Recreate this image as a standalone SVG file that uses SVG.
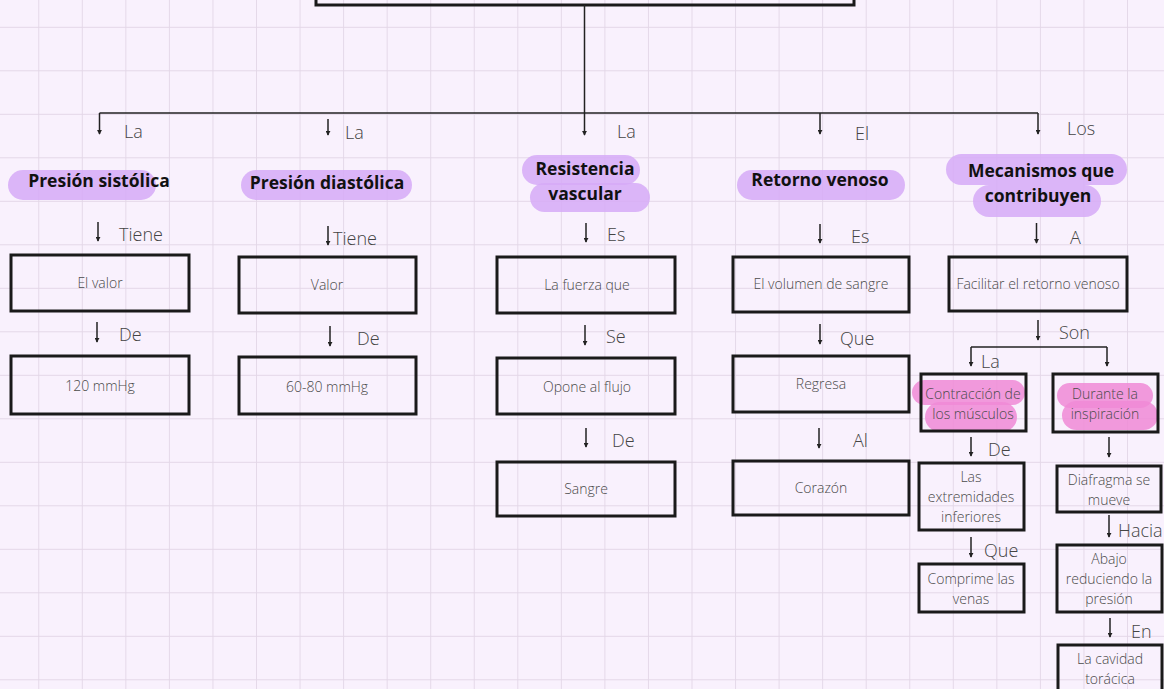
<svg xmlns="http://www.w3.org/2000/svg" width="1164" height="689" viewBox="0 0 1164 689">
<defs>
<pattern id="grid" x="-5.3" y="-16.7" width="43.55" height="43.5" patternUnits="userSpaceOnUse">
<path d="M0 0 V43.5 M0 0 H43.55" fill="none" stroke="#e3d7e7" stroke-width="1.8"/>
</pattern>
<marker id="ah" viewBox="0 0 6 6" refX="5" refY="3" markerWidth="5" markerHeight="5" orient="auto" markerUnits="userSpaceOnUse">
<path d="M0 0 L6 3 L0 6 Z" fill="#222"/>
</marker>
<style>
.box{fill:none;stroke:#1a1a1a;stroke-width:3}
.bt{font-family:"Open Sans","Liberation Sans",sans-serif;font-weight:300;font-size:14px;fill:#4a4a4a;text-anchor:middle}
.lb{font-family:"Open Sans","Liberation Sans",sans-serif;font-weight:300;font-size:18px;fill:#444}
.tt{font-family:"Open Sans","Liberation Sans",sans-serif;font-weight:700;font-size:17.5px;fill:#111;text-anchor:middle}
.hp{fill:#d6aaf7;opacity:0.85}
.hk{fill:#f08ad6;opacity:0.85}
.ar{stroke:#222;stroke-width:1.5;fill:none;marker-end:url(#ah)}
.ln{stroke:#222;stroke-width:1.5;fill:none}
</style>
</defs>
<rect width="1164" height="689" fill="#f9f1fd"/>
<rect width="1164" height="689" fill="url(#grid)"/>

<g id="root"><rect class="box" x="316" y="-10" width="538" height="15"/></g>

<g id="connectors">
<line class="ar" x1="584.5" y1="5" x2="584.5" y2="135"/>
<path class="ln" d="M99.5 113 H1038"/>
<line class="ar" x1="99.5" y1="113" x2="99.5" y2="134"/>
<line class="ar" x1="328" y1="119" x2="328" y2="135"/>
<line class="ar" x1="820" y1="113" x2="820" y2="134"/>
<line class="ar" x1="1038" y1="113" x2="1038" y2="134"/>
<line class="ar" x1="98" y1="222" x2="98" y2="241"/>
<line class="ar" x1="328" y1="226" x2="328" y2="245"/>
<line class="ar" x1="586" y1="223" x2="586" y2="242"/>
<line class="ar" x1="820" y1="224" x2="820" y2="243"/>
<line class="ar" x1="1036.5" y1="223" x2="1036.5" y2="243"/>
<line class="ar" x1="97" y1="322" x2="97" y2="342"/>
<line class="ar" x1="330" y1="326" x2="330" y2="346"/>
<line class="ar" x1="585" y1="325" x2="585" y2="345"/>
<line class="ar" x1="586" y1="428" x2="586" y2="447"/>
<line class="ar" x1="820" y1="324" x2="820" y2="344"/>
<line class="ar" x1="819" y1="428" x2="819" y2="448"/>
<line class="ar" x1="1038" y1="320" x2="1038" y2="340"/>
<path class="ln" d="M971 347 H1107"/>
<line class="ar" x1="971" y1="347" x2="971" y2="366"/>
<line class="ar" x1="1107" y1="347" x2="1107" y2="366"/>
<line class="ar" x1="971" y1="437" x2="971" y2="456"/>
<line class="ar" x1="1109" y1="437" x2="1109" y2="457"/>
<line class="ar" x1="971" y1="537" x2="971" y2="557"/>
<line class="ar" x1="1109" y1="515" x2="1109" y2="537"/>
<line class="ar" x1="1110" y1="618" x2="1110" y2="637"/>
</g>

<g id="labels">
<text class="lb" x="124" y="138">La</text>
<text class="lb" x="345" y="139">La</text>
<text class="lb" x="617" y="138">La</text>
<text class="lb" x="855" y="140">El</text>
<text class="lb" x="1067" y="135">Los</text>
<text class="lb" x="119" y="241">Tiene</text>
<text class="lb" x="333" y="245">Tiene</text>
<text class="lb" x="607" y="241">Es</text>
<text class="lb" x="851" y="243">Es</text>
<text class="lb" x="1070" y="244">A</text>
<text class="lb" x="119" y="341">De</text>
<text class="lb" x="357" y="345">De</text>
<text class="lb" x="606" y="343">Se</text>
<text class="lb" x="612" y="447">De</text>
<text class="lb" x="840" y="345">Que</text>
<text class="lb" x="853" y="447">Al</text>
<text class="lb" x="1059" y="339">Son</text>
<text class="lb" x="981" y="368">La</text>
<text class="lb" x="988" y="456">De</text>
<text class="lb" x="984" y="557">Que</text>
<text class="lb" x="1118" y="537">Hacia</text>
<text class="lb" x="1131" y="638">En</text>
</g>

<g id="t-sistolica">
<rect class="hp" x="8" y="170" width="148" height="30" rx="15"/>
<text class="tt" x="99" y="187">Presión sistólica</text>
</g>
<g id="t-diastolica">
<rect class="hp" x="241" y="170" width="171" height="30" rx="15"/>
<text class="tt" x="327" y="189">Presión diastólica</text>
</g>
<g id="t-resistencia">
<rect class="hp" x="522" y="155" width="118" height="30" rx="15"/>
<rect class="hp" x="530" y="183" width="120" height="29" rx="14.5"/>
<text class="tt" x="585" y="175">Resistencia</text>
<text class="tt" x="585" y="200">vascular</text>
</g>
<g id="t-retorno">
<rect class="hp" x="737" y="170" width="168" height="30" rx="15"/>
<text class="tt" x="820" y="186">Retorno venoso</text>
</g>
<g id="t-mecanismos">
<rect class="hp" x="946" y="154" width="181" height="31" rx="15.5"/>
<rect class="hp" x="973" y="185" width="128" height="32" rx="16"/>
<text class="tt" x="1041" y="177">Mecanismos que</text>
<text class="tt" x="1038" y="202">contribuyen</text>
</g>

<g id="n-elvalor"><rect class="box" x="11" y="255" width="178" height="56"/><text class="bt" x="100" y="288">El valor</text></g>
<g id="n-120"><rect class="box" x="11" y="356" width="178" height="58"/><text class="bt" x="100" y="391">120 mmHg</text></g>
<g id="n-valor"><rect class="box" x="239" y="257" width="177" height="56"/><text class="bt" x="327" y="290">Valor</text></g>
<g id="n-6080"><rect class="box" x="239" y="357" width="177" height="57"/><text class="bt" x="327" y="392">60-80 mmHg</text></g>
<g id="n-fuerza"><rect class="box" x="497" y="257" width="178" height="56"/><text class="bt" x="587" y="290">La fuerza que</text></g>
<g id="n-opone"><rect class="box" x="497" y="358" width="178" height="56"/><text class="bt" x="587" y="392">Opone al flujo</text></g>
<g id="n-sangre"><rect class="box" x="497" y="462" width="178" height="54"/><text class="bt" x="586" y="494">Sangre</text></g>
<g id="n-volumen"><rect class="box" x="733" y="257" width="176" height="55"/><text class="bt" x="821" y="289">El volumen de sangre</text></g>
<g id="n-regresa"><rect class="box" x="733" y="356" width="176" height="56"/><text class="bt" x="821" y="389">Regresa</text></g>
<g id="n-corazon"><rect class="box" x="733" y="461" width="176" height="54"/><text class="bt" x="821" y="493">Corazón</text></g>
<g id="n-facilitar"><rect class="box" x="949" y="257" width="178" height="54"/><text class="bt" x="1038" y="289">Facilitar el retorno venoso</text></g>
<g id="n-contraccion">
<rect class="hk" x="912" y="380" width="113" height="25" rx="12.5"/>
<rect class="hk" x="925" y="402" width="92" height="30" rx="15"/>
<rect class="box" x="921" y="374" width="105" height="57"/>
<text class="bt" x="973" y="399">Contracción de</text>
<text class="bt" x="973" y="419">los músculos</text>
</g>
<g id="n-durante">
<rect class="hk" x="1057" y="383" width="96" height="25" rx="12.5"/>
<rect class="hk" x="1062" y="401" width="96" height="29" rx="14.5"/>
<rect class="box" x="1053" y="374" width="105" height="58"/>
<text class="bt" x="1105" y="399">Durante la</text>
<text class="bt" x="1105" y="419">inspiración</text>
</g>
<g id="n-extremidades"><rect class="box" x="919" y="463" width="105" height="67"/>
<text class="bt" x="971" y="482">Las</text><text class="bt" x="971" y="502">extremidades</text><text class="bt" x="971" y="522">inferiores</text></g>
<g id="n-comprime"><rect class="box" x="919" y="564" width="105" height="48"/>
<text class="bt" x="971" y="584">Comprime las</text><text class="bt" x="971" y="604">venas</text></g>
<g id="n-diafragma"><rect class="box" x="1057" y="466" width="104" height="46"/>
<text class="bt" x="1109" y="485">Diafragma se</text><text class="bt" x="1109" y="505">mueve</text></g>
<g id="n-abajo"><rect class="box" x="1057" y="545" width="105" height="67"/>
<text class="bt" x="1109" y="564">Abajo</text><text class="bt" x="1109" y="584">reduciendo la</text><text class="bt" x="1109" y="604">presión</text></g>
<g id="n-cavidad"><rect class="box" x="1058" y="645" width="104" height="60"/>
<text class="bt" x="1110" y="664">La cavidad</text><text class="bt" x="1110" y="684">torácica</text></g>
</svg>
